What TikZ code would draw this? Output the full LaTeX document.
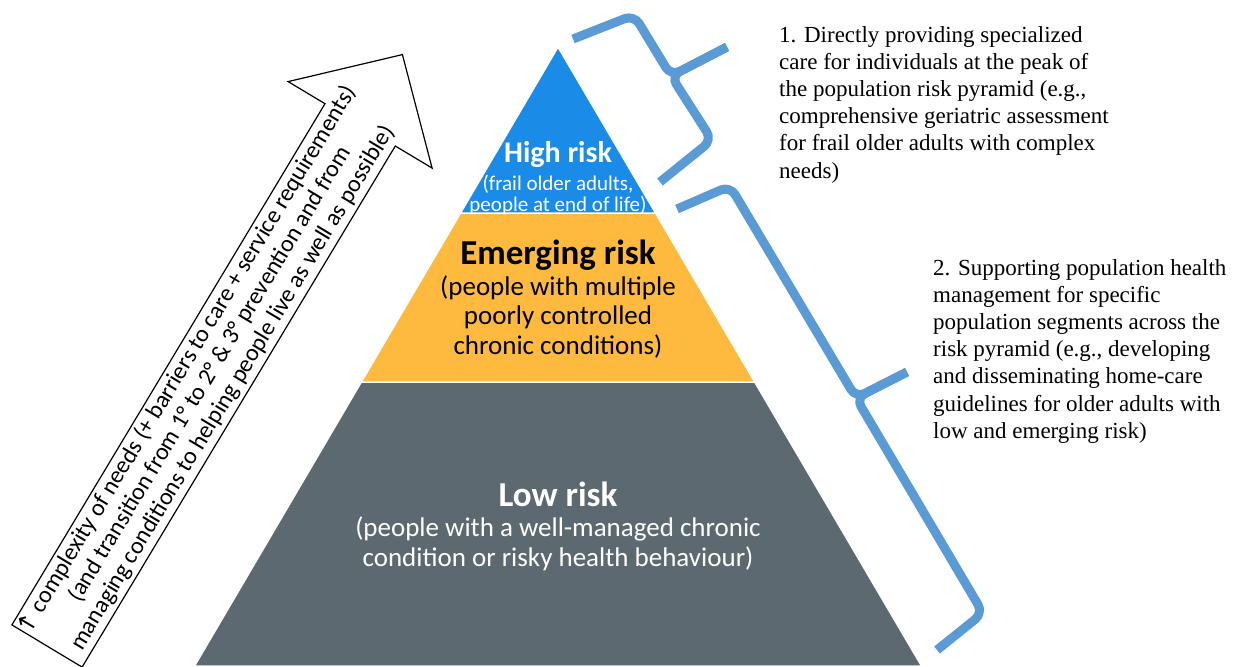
\documentclass[tikz,border=0pt]{standalone}
\usepackage{fontspec}
\setmainfont{Liberation Serif}
\newfontfamily\calib{Carlito}
\newfontfamily\symb{DejaVu Sans}
\usepackage{xcolor}
\usetikzlibrary{positioning}

\definecolor{highblue}{RGB}{27,139,232}
\definecolor{emergyellow}{RGB}{253,186,62}
\definecolor{lowgrey}{RGB}{93,105,112}
\definecolor{braceblue}{RGB}{91,155,213}

\tikzset{
	layer/.style={draw=white,line width=1.5pt},
	bigtitle/.style={inner sep=0pt,font=\calib\bfseries\fontsize{35}{38}\selectfont},
	subtext/.style={inner sep=0pt,align=center,font=\calib\fontsize{27}{29.5}\selectfont},
	note/.style={inner sep=0pt,anchor=north west,align=left,font=\fontsize{23}{27.2}\selectfont},
	bracket/.style={draw=braceblue,line width=9pt,rounded corners=10pt},
}

\begin{document}
\begin{tikzpicture}[x=1pt,y=-1pt]
	\useasboundingbox (0,0) rectangle (1238,666);
	
	% pyramid layers
	\path[layer,fill=lowgrey] (361.3,382) -- (754.7,382) -- (921.5,666) -- (194.5,666) -- cycle;
	\path[layer,fill=emergyellow] (460.5,213) -- (655.5,213) -- (754.7,382) -- (361.3,382) -- cycle;
	\path[layer,fill=highblue] (558,47) -- (655.5,213) -- (460.5,213) -- cycle;
	
	\node[inner sep=0pt,text=white,font=\calib\bfseries\fontsize{30}{33}\selectfont] (high) at (558,155) {High risk};
	\node[inner sep=0pt,align=center,text=white,font=\calib\fontsize{21}{21.5}\selectfont,below=6.5pt of high] (high sub) {(frail older adults,\\people at end of life)};
	
	\node[bigtitle] (emerging) at (558,255) {Emerging risk};
	\node[subtext,below=5pt of emerging] (emerging sub) {(people with multiple\\poorly controlled\\chronic conditions)};
	
	\node[bigtitle,text=white] (low) at (558,494) {Low risk};
	\node[subtext,text=white,below=10pt of low] (low sub) {(people with a well-managed chronic\\condition or risky health behaviour)};
	
	% rising arrow
	\draw[fill=white,line width=1.2pt,line join=miter] (11.9,624.9) -- (325.0,103.7) -- (288.1,81.6) -- (402.4,54.6) -- (432.1,168.1) -- (395.3,146.0) -- (82.1,667.1) -- cycle;
	\node[inner sep=0pt,rotate=59,align=center,font=\calib\fontsize{24}{26.5}\selectfont] (trend) at (210,374) {{\symb ↑} complexity of needs (+ barriers to care + service requirements)\\(and transition from 1° to 2° \& 3° prevention and from\\managing conditions to helping people live as well as possible)};
	
	% braces
	\draw[bracket] (573,39) -- (634,15) -- (671,76) -- (727,47);
	\draw[bracket] (727,47) -- (671,76) -- (712,140) -- (660,182);
	\draw[bracket] (677,209) -- (730,186) -- (856,398) -- (907,372);
	\draw[bracket] (907,372) -- (856,398) -- (983,613) -- (937,650);
	
	\node[note] (note1) at (779,26) {1. Directly providing specialized\\care for individuals at the peak of\\the population risk pyramid (e.g.,\\comprehensive geriatric assessment\\for frail older adults with complex\\needs)};
	\node[note] (note2) at (933,259) {2. Supporting population health\\management for specific\\population segments across the\\risk pyramid (e.g., developing\\and disseminating home-care\\guidelines for older adults with\\low and emerging risk)};
	
\end{tikzpicture}
\end{document}
